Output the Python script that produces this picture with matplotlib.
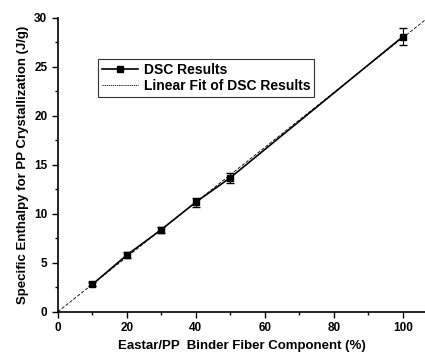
import numpy as np
import matplotlib.pyplot as plt
from matplotlib.ticker import MultipleLocator
from matplotlib.lines import Line2D

plt.rcParams['font.family'] = ['Liberation Sans', 'DejaVu Sans']
plt.rcParams['font.weight'] = 'bold'

fiber = [10, 20, 30, 40, 50, 100]
enthalpy = [2.8, 5.8, 8.4, 11.2, 13.7, 28.1]
err = [0.2, 0.3, 0.3, 0.45, 0.5, 0.9]

m, c = np.polyfit(fiber, enthalpy, 1)
x_fit = np.linspace(0, 110, 50)
y_fit = m * x_fit + c

fig = plt.figure(figsize=(4.25, 3.52), dpi=100)
ax = fig.add_axes([0.136, 0.114, 0.864, 0.835])

ax.errorbar(fiber, enthalpy, yerr=err, fmt='-s', color='black', ms=5,
            lw=1.2, capsize=3, elinewidth=0.8)
ax.plot(x_fit, y_fit, color='black', lw=0.6, dashes=(4, 2))

h1 = Line2D([], [], color='black', marker='s', ms=5, lw=1.2)
h2 = Line2D([], [], color='black', lw=0.6, dashes=(1.5, 1))

ax.set_xlim(0, 106.4)
ax.set_ylim(0, 30)
ax.xaxis.set_major_locator(MultipleLocator(20))
ax.xaxis.set_minor_locator(MultipleLocator(10))
ax.yaxis.set_major_locator(MultipleLocator(5))
ax.yaxis.set_minor_locator(MultipleLocator(2.5))
ax.tick_params(which='major', length=4, width=1, labelsize=8.5)
ax.tick_params(which='minor', length=2, width=1)
ax.spines['top'].set_visible(False)
ax.spines['right'].set_visible(False)
ax.spines['left'].set_linewidth(1.2)
ax.spines['bottom'].set_linewidth(1.2)

ax.set_xlabel('Eastar/PP  Binder Fiber Component (%)', fontsize=9.5, fontweight='bold')
ax.set_ylabel('Specific Enthalpy for PP Crystallization (J/g)', fontsize=9.5, fontweight='bold')

leg = ax.legend([h1, h2], ['DSC Results', 'Linear Fit of DSC Results'],
                loc='upper left', bbox_to_anchor=(0.09, 0.885), fontsize=10,
                frameon=True, fancybox=False, edgecolor='black',
                handlelength=2.6, borderpad=0.3, labelspacing=0.15, handletextpad=0.4)
leg.get_frame().set_linewidth(0.8)

fig.savefig('out.png', dpi=100)
